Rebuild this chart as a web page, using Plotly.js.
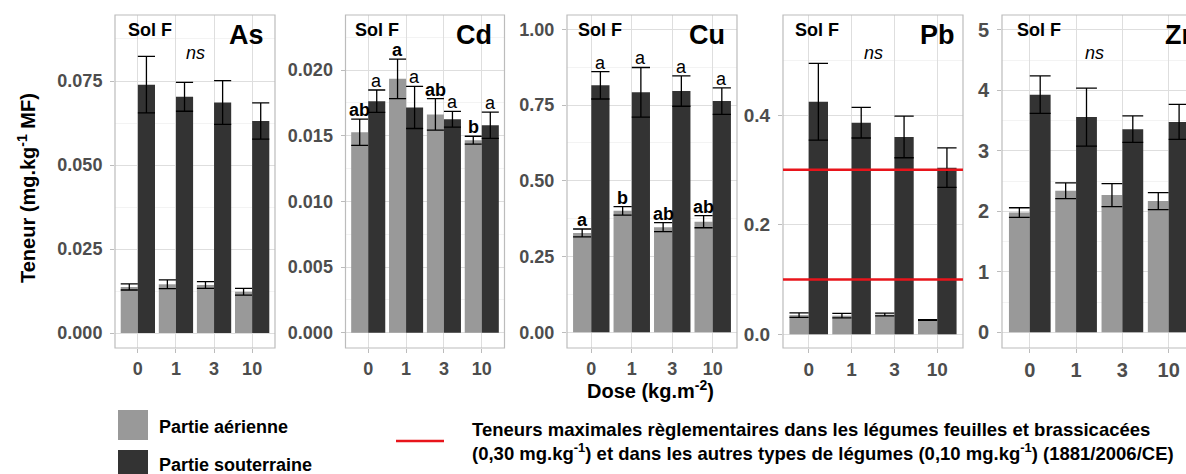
<!DOCTYPE html>
<html><head><meta charset="utf-8">
<script src="https://cdn.plot.ly/plotly-3.0.1.min.js"></script>
<style>html,body{margin:0;padding:0;background:#fff;overflow:hidden}#chart{width:1186px;height:474px}</style>
</head><body><div id="chart"></div>
<script>
// ---------- DATA ----------
const doses = ['0', '1', '3', '10'];
const seriesNames = ['Partie aérienne', 'Partie souterraine'];
const elements = ['As', 'Cd', 'Cu', 'Pb', 'Zn'];

const asAer = [0.0137, 0.0145, 0.0143, 0.0123];
const asAerErr = [0.0009, 0.0013, 0.0010, 0.0010];
const asSout = [0.0739, 0.0703, 0.0686, 0.0631];
const asSoutErr = [0.0084, 0.0043, 0.0065, 0.0054];

const cdAer = [0.01527, 0.01933, 0.01662, 0.01466];
const cdAerErr = [0.0010, 0.0015, 0.0012, 0.0003];
const cdSout = [0.01763, 0.01715, 0.01626, 0.0158];
const cdSoutErr = [0.00085, 0.0016, 0.0006, 0.0010];

const cuAer = [0.328, 0.401, 0.347, 0.365];
const cuAerErr = [0.013, 0.014, 0.015, 0.020];
const cuSout = [0.815, 0.792, 0.796, 0.763];
const cuSoutErr = [0.045, 0.082, 0.050, 0.044];

const pbAer = [0.035, 0.034, 0.036, 0.026];
const pbAerErr = [0.004, 0.004, 0.0025, 0.0005];
const pbSout = [0.424, 0.386, 0.360, 0.304];
const pbSoutErr = [0.070, 0.028, 0.038, 0.036];

const znAer = [1.98, 2.34, 2.27, 2.17];
const znAerErr = [0.08, 0.13, 0.19, 0.14];
const znSout = [3.93, 3.56, 3.36, 3.48];
const znSoutErr = [0.31, 0.48, 0.22, 0.29];

const cdLettersAer = ['ab', 'a', 'ab', 'b'];
const cdLettersSout = ['a', 'a', 'a', 'a'];
const cuLettersAer = ['a', 'b', 'ab', 'ab'];
const cuLettersSout = ['a', 'a', 'a', 'a'];
const pbLimits = [0.30, 0.10];

const yTitle = 'Teneur (mg.kg<sup>-1</sup> MF)';
const xTitle = 'Dose (kg.m<sup>-2</sup>)';
const soilLabel = 'Sol F';
const nsLabel = 'ns';
const limitText1 = 'Teneurs maximales règlementaires dans les légumes feuilles et brassicacées';
const limitText2 = '(0,30 mg.kg<sup>-1</sup>) et dans les autres types de légumes (0,10 mg.kg<sup>-1</sup>) (1881/2006/CE)';

// ---------- STYLE / LAYOUT ----------
const W = 1186, H = 474;
const FONT = 'Liberation Sans, Arial, sans-serif';
const LIGHT = '#999999', DARK = '#333333';
const TICKCOL = '#4d4d4d', GRID = '#dedede', MINOR = '#eeeeee', BORDER = '#bcbcbc';
const py = v => 1 - v / H;
const px = v => v / W;
const yDom = [py(348), py(15)];

const panels = [
  {aer: asAer, aerE: asAerErr, sout: asSout, soutE: asSoutErr, x0: 115, x1: 275, xr: [-0.6, 3.6],
   yr: [-0.00446, 0.09464], dtick: 0.025, minor: 0.0125, fmt: '.3f', fs: 18, ns: true,
   sol: 126, elR: 266},
  {aer: cdAer, aerE: cdAerErr, sout: cdSout, soutE: cdSoutErr, x0: 345.5, x1: 504.5, xr: [-0.6, 3.6],
   yr: [-0.00116, 0.02419], dtick: 0.005, minor: 0.0025, fmt: '.3f', fs: 18, ns: false,
   sol: 353, elR: 494, la: cdLettersAer, ls: cdLettersSout},
  {aer: cuAer, aerE: cuAerErr, sout: cuSout, soutE: cuSoutErr, x0: 567, x1: 737, xr: [-0.6, 3.6],
   yr: [-0.0518, 1.0472], dtick: 0.25, minor: 0.125, fmt: '.2f', fs: 18, ns: false,
   sol: 576, elR: 727, la: cuLettersAer, ls: cuLettersSout},
  {aer: pbAer, aerE: pbAerErr, sout: pbSout, soutE: pbSoutErr, x0: 783, x1: 963, xr: [-0.6, 3.6],
   yr: [-0.025, 0.5824], dtick: 0.2, minor: 0.1, fmt: '.1f', fs: 19, ns: true,
   sol: 793, elR: 957, limits: pbLimits},
  {aer: znAer, aerE: znAerErr, sout: znSout, soutE: znSoutErr, x0: 1002, x1: 1186, xr: [-0.6, 3.374],
   yr: [-0.26, 5.248], dtick: 1, minor: 0.5, fmt: 'd', fs: 20, ns: true,
   sol: 1015, elR: 1200, cut: true}
];

const data = [];
const shapes = [];
const annotations = [];
const layout = {
  width: W, height: H, margin: {l: 0, r: 0, t: 0, b: 0},
  paper_bgcolor: '#fff', plot_bgcolor: '#fff',
  barmode: 'group', bargap: 0.1, bargroupgap: 0,
  showlegend: false, font: {family: FONT, color: '#000'},
  shapes: shapes, annotations: annotations
};

panels.forEach((p, i) => {
  const n = i + 1;
  const xa = n === 1 ? 'x' : 'x' + n;
  const ya = n === 1 ? 'y' : 'y' + n;
  const pxPerUnit = (p.x1 - p.x0) / (p.xr[1] - p.xr[0]);
  const barW = 0.45 * pxPerUnit;
  [[p.aer, p.aerE, LIGHT, seriesNames[0]], [p.sout, p.soutE, DARK, seriesNames[1]]].forEach(([vals, errs, col, name]) => {
    data.push({
      type: 'bar', name: name, x: doses, y: vals, xaxis: xa, yaxis: ya,
      marker: {color: col, line: {width: 0}},
      error_y: {type: 'data', array: errs, visible: true, color: '#000', thickness: 1.3, width: barW / 2},
      hoverinfo: 'skip'
    });
  });
  layout['xaxis' + (n === 1 ? '' : n)] = {
    domain: [px(p.x0), Math.min(1, px(p.x1))], anchor: ya, type: 'category',
    categoryorder: 'array', categoryarray: doses, range: p.xr,
    showgrid: true, gridcolor: GRID, gridwidth: 1, zeroline: false, showline: false,
    ticks: 'outside', ticklen: 4, tickcolor: BORDER, tickwidth: 1,
    tickfont: {family: FONT, size: p.fs, color: TICKCOL, weight: 'bold'}, fixedrange: true
  };
  layout['yaxis' + (n === 1 ? '' : n)] = {
    domain: yDom, anchor: xa, range: p.yr, tick0: 0, dtick: p.dtick, tickformat: p.fmt,
    showgrid: true, gridcolor: GRID, gridwidth: 1, zeroline: false, showline: false,
    minor: {dtick: p.minor, tick0: 0, showgrid: true, gridcolor: MINOR, gridwidth: 0.7, ticks: ''},
    ticks: 'outside', ticklen: 4, tickcolor: BORDER, tickwidth: 1, ticklabelstandoff: 4,
    tickfont: {family: FONT, size: p.fs, color: TICKCOL, weight: 'bold'}, fixedrange: true
  };
  // panel border
  shapes.push({type: 'rect', xref: xa + ' domain', yref: ya + ' domain', x0: 0, x1: p.cut ? 1.3 : 1, y0: 0, y1: 1,
    line: {color: BORDER, width: 1.2}, layer: 'above'});
  // regulatory limits
  if (p.limits) p.limits.forEach(v => shapes.push({type: 'line', xref: xa + ' domain', yref: ya, x0: 0, x1: 1, y0: v, y1: v,
    line: {color: '#e8141b', width: 2.6}, layer: 'above'}));
  // headers
  annotations.push({xref: 'paper', yref: 'paper', x: px(p.sol), y: py(30), xanchor: 'left', yanchor: 'middle',
    text: '<b>' + soilLabel + '</b>', showarrow: false, font: {family: FONT, size: 18, color: '#000'}});
  annotations.push({xref: 'paper', yref: 'paper', x: px(p.elR), y: py(35), xanchor: 'right', yanchor: 'middle',
    text: '<b>' + elements[i] + '</b>', showarrow: false, font: {family: FONT, size: 27, color: '#000'}});
  if (p.ns) annotations.push({xref: xa + ' domain', yref: 'paper', x: 0.5, y: py(53), xanchor: 'center', yanchor: 'middle',
    text: '<i>' + nsLabel + '</i>', showarrow: false, font: {family: FONT, size: 18, color: '#000'}});
  // significance letters
  if (p.la) {
    doses.forEach((d, k) => {
      annotations.push({xref: xa, yref: ya, x: k - 0.225, y: p.aer[k] + p.aerE[k], xanchor: 'center', yanchor: 'bottom',
        yshift: -3, text: '<b>' + p.la[k] + '</b>', showarrow: false, font: {family: FONT, size: 18, color: '#000'}});
      annotations.push({xref: xa, yref: ya, x: k + 0.225, y: p.sout[k] + p.soutE[k], xanchor: 'center', yanchor: 'bottom',
        yshift: -3, text: p.ls[k], showarrow: false, font: {family: FONT, size: 18, color: '#000'}});
    });
  }
});

// axis titles
annotations.push({xref: 'paper', yref: 'paper', x: px(26), y: py(188), xanchor: 'center', yanchor: 'middle', textangle: -90,
  text: '<b>' + yTitle + '</b>', showarrow: false, font: {family: FONT, size: 20, color: '#000'}});
annotations.push({xref: 'paper', yref: 'paper', x: px(650), y: py(389), xanchor: 'center', yanchor: 'middle',
  text: '<b>' + xTitle + '</b>', showarrow: false, font: {family: FONT, size: 20, color: '#000'}});

// legend (drawn)
shapes.push({type: 'rect', xref: 'paper', yref: 'paper', x0: px(118), x1: px(148), y0: py(440), y1: py(410), fillcolor: LIGHT, line: {width: 0}});
shapes.push({type: 'rect', xref: 'paper', yref: 'paper', x0: px(118), x1: px(148), y0: py(480), y1: py(450), fillcolor: DARK, line: {width: 0}});
shapes.push({type: 'line', xref: 'paper', yref: 'paper', x0: px(396), x1: px(444), y0: py(441), y1: py(441), line: {color: '#e8141b', width: 2.6}});
annotations.push({xref: 'paper', yref: 'paper', x: px(157), y: py(427), xanchor: 'left', yanchor: 'middle',
  text: '<b>' + seriesNames[0] + '</b>', showarrow: false, font: {family: FONT, size: 18, color: '#000'}});
annotations.push({xref: 'paper', yref: 'paper', x: px(157), y: py(465), xanchor: 'left', yanchor: 'middle',
  text: '<b>' + seriesNames[1] + '</b>', showarrow: false, font: {family: FONT, size: 18, color: '#000'}});
annotations.push({xref: 'paper', yref: 'paper', x: px(470), y: py(429), xanchor: 'left', yanchor: 'middle',
  text: '<b>' + limitText1 + '</b>', showarrow: false, font: {family: FONT, size: 18.5, color: '#000'}});
annotations.push({xref: 'paper', yref: 'paper', x: px(470), y: py(452), xanchor: 'left', yanchor: 'middle',
  text: '<b>' + limitText2 + '</b>', showarrow: false, font: {family: FONT, size: 18.5, color: '#000'}});

Plotly.newPlot('chart', data, layout, {displayModeBar: false, staticPlot: true});
</script>
</body></html>
